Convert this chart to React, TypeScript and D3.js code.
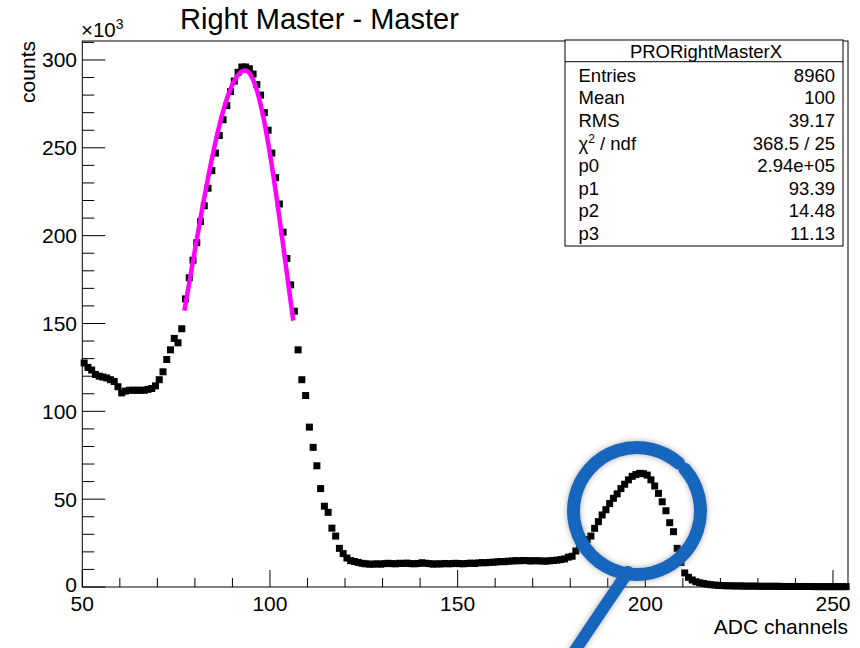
import React from 'react';
import * as d3 from 'd3';

// histogram PRORightMasterX, bins of 1 ADC channel starting at 50, counts in thousands
const firstBin = 50;
const plateau = [127.5, 125, 123.5, 121, 120, 119.5, 119, 118, 117, 114, 110.5, 111.5, 112, 112, 112, 112, 112, 112.5, 113, 114.5, 118, 122.5, 129.5, 135, 141.5, 139, 147, 164];
const mainPeak = [176, 186, 196, 208, 217, 227, 237, 247, 257, 266, 274, 282, 288, 293, 296, 296, 295, 292, 286, 280, 270, 260, 247, 233, 218, 202, 187, 172, 157];
const fallingEdge = [135, 118, 109, 91, 79.5, 69, 56, 46, 42.5, 33.5, 29, 22, 19, 16.5, 15];
const valley = [14.5, 14, 13.5, 13.2, 13, 13, 13.2, 13, 13.3, 13.5, 13.3, 13.2, 13.5, 13.4, 13.6, 13.3, 13.2, 13.4, 13.8, 13.5, 13.3, 13.0, 13.2, 13.1, 13.4, 13.2, 13.3, 13.5, 13.3, 13.2, 13.4, 13.6, 13.4, 13.7, 13.9, 13.8, 14.0, 14.1, 14.3, 14.5, 14.4, 14.7, 14.8, 15.0, 14.9, 15.1, 15.0, 14.8, 15.0, 14.9, 14.8, 14.7, 14.9, 15.1, 15.3, 15.6, 16.0, 17.0, 17.5, 20.5, 23.5];
const secondPeak = [25, 27, 29, 33.4, 37.2, 41, 44, 47.5, 50.5, 53, 56, 58.5, 61, 63, 64, 64.7, 64.5, 63.7, 61, 57.5, 53.3, 48.5, 43.4, 36.6, 31.5, 22, 14, 8];
const tail = [5.5, 4, 3, 2.4, 2, 1.6, 1.3, 1.1, 0.9, 0.8, 0.7, 0.7, 0.6, 0.6, 0.6, 0.5, 0.5, 0.5, 0.5, 0.4, 0.4, 0.4, 0.4, 0.4, 0.4, 0.3, 0.3, 0.3, 0.3, 0.3, 0.3, 0.3, 0.3, 0.3, 0.2, 0.2, 0.2, 0.2, 0.2, 0.2, 0.2, 0.2, 0.2];

const counts = [...plateau, ...mainPeak, ...fallingEdge, ...valley, ...secondPeak, ...tail];

const xMajor = [50, 100, 150, 200, 250];
const yMajor = [0, 50, 100, 150, 200, 250, 300];

const statNames = ['Entries', 'Mean', 'RMS', 'chi', 'p0', 'p1', 'p2', 'p3'];
const statValues = ['8960', '100', '39.17', '368.5 / 25', '2.94e+05', '93.39', '14.48', '11.13'];

// asymmetric gaussian fit: p0 (thousands), p1 mean, p2 left sigma, p3 right sigma
const fitParams = [294, 93.39, 14.48, 11.13];
const fitRange = [77.2, 106.2];

const font = '"Liberation Sans", Arial, Helvetica, sans-serif';

const frame = { left: 82.3, right: 848, top: 41, bottom: 587 };

const App = () => {
  const x = d3.scaleLinear().domain([50, 254]).range([frame.left, frame.right]);
  const y = d3.scaleLinear().domain([0, 310.8]).range([frame.bottom, frame.top]);

  const xMinor = d3.range(50, 255, 10).filter(v => !xMajor.includes(v));
  const yMinor = d3.range(0, 311, 10).filter(v => !yMajor.includes(v));

  const fit = (u: number) => {
    const [p0, p1, p2, p3] = fitParams;
    const s = u < p1 ? p2 : p3;
    return p0 * Math.exp(-0.5 * ((u - p1) / s) ** 2);
  };
  const fitPts = d3.range(fitRange[0], fitRange[1] + 0.001, 0.2).map(u => [u, fit(u)] as [number, number]);
  const fitLine = d3.line<[number, number]>().x(d => x(d[0])).y(d => y(d[1])).curve(d3.curveLinear);

  const ms = 7;

  // hand drawn blue ring annotation
  const cx = 637, cy = 511, r = 63.5;
  const a0 = (-41 * Math.PI) / 180, a1 = (-49 * Math.PI) / 180;
  const ring = `M${cx + r * Math.cos(a0)},${cy + r * Math.sin(a0)} A${r},${r} 0 1 1 ${cx + r * Math.cos(a1)},${cy + r * Math.sin(a1)}`;

  const box = { x0: 565, x1: 843, y0: 40, y1: 246 };

  return (
    <svg width={860} height={648} style={{ position: 'absolute', left: 0, top: 0, background: '#fff' }} fontFamily={font}>
      <defs>
        <filter id="halo" x="-30%" y="-30%" width="160%" height="160%">
          <feDropShadow dx="0" dy="0" stdDeviation="3" floodColor="#777" floodOpacity="0.6" />
        </filter>
      </defs>
      <rect x={0} y={0} width={860} height={648} fill="#fff" />

      {/* title */}
      <text x={180} y={29} fontSize={29} fill="#000">Right Master - Master</text>

      {/* frame */}
      <rect x={frame.left} y={frame.top} width={frame.right - frame.left} height={frame.bottom - frame.top} fill="none" stroke="#000" strokeWidth={1} />

      {/* x axis ticks */}
      {xMajor.map(v => (
        <g key={'xm' + v}>
          <line x1={x(v)} x2={x(v)} y1={frame.bottom} y2={frame.bottom - 17} stroke="#000" />
          <text x={x(v)} y={611} fontSize={21} textAnchor="middle">{v}</text>
        </g>
      ))}
      {xMinor.map(v => (
        <line key={'xn' + v} x1={x(v)} x2={x(v)} y1={frame.bottom} y2={frame.bottom - 9} stroke="#000" />
      ))}
      <text x={848} y={633.5} fontSize={21} textAnchor="end">ADC channels</text>

      {/* y axis ticks */}
      {yMajor.map(v => (
        <g key={'ym' + v}>
          <line x1={frame.left} x2={frame.left + 23} y1={y(v)} y2={y(v)} stroke="#000" />
          <text x={77} y={y(v) + (v === 0 ? 5 : 7.5)} fontSize={21} textAnchor="end">{v}</text>
        </g>
      ))}
      {yMinor.map(v => (
        <line key={'yn' + v} x1={frame.left} x2={frame.left + 12} y1={y(v)} y2={y(v)} stroke="#000" />
      ))}
      <text x={81} y={37} fontSize={20.5}>×10<tspan fontSize={14} dy={-8}>3</tspan></text>
      <text transform="translate(35,41) rotate(-90)" fontSize={21} textAnchor="end">counts</text>

      {/* data markers */}
      {counts.map((c, i) => (
        <rect key={'m' + i} x={x(firstBin + i + 0.5) - ms / 2} y={y(c) - ms / 2} width={ms} height={ms} fill="#000" />
      ))}

      {/* fit */}
      <path d={fitLine(fitPts) || ''} fill="none" stroke="#ff00ff" strokeWidth={4.5} strokeLinecap="butt" />

      {/* stats box */}
      <rect x={box.x0} y={box.y0} width={box.x1 - box.x0} height={box.y1 - box.y0} fill="#fff" stroke="#000" strokeWidth={1} />
      <line x1={box.x0} x2={box.x1} y1={61.7} y2={61.7} stroke="#000" />
      <text x={(box.x0 + box.x1) / 2 + 2} y={58.3} fontSize={18.5} textAnchor="middle">PRORightMasterX</text>
      {statNames.map((n, i) => (
        <g key={'s' + i}>
          <text x={578.5} y={81.7 + i * 22.6} fontSize={18.5}>
            {n === 'chi' ? (<>
              χ<tspan fontSize={12} dy={-7}>2</tspan><tspan dy={7}> / ndf</tspan>
            </>) : n}
          </text>
          <text x={835} y={81.7 + i * 22.6} fontSize={18.5} textAnchor="end">{statValues[i]}</text>
        </g>
      ))}

      {/* blue annotation ring */}
      <g filter="url(#halo)">
        <path d={ring} fill="none" stroke="#1366bd" strokeWidth={13} strokeLinecap="round" />
        <path d="M628,572 Q606,604 574,652" fill="none" stroke="#1366bd" strokeWidth={12} strokeLinecap="round" />
      </g>
    </svg>
  );
};

export default App;
